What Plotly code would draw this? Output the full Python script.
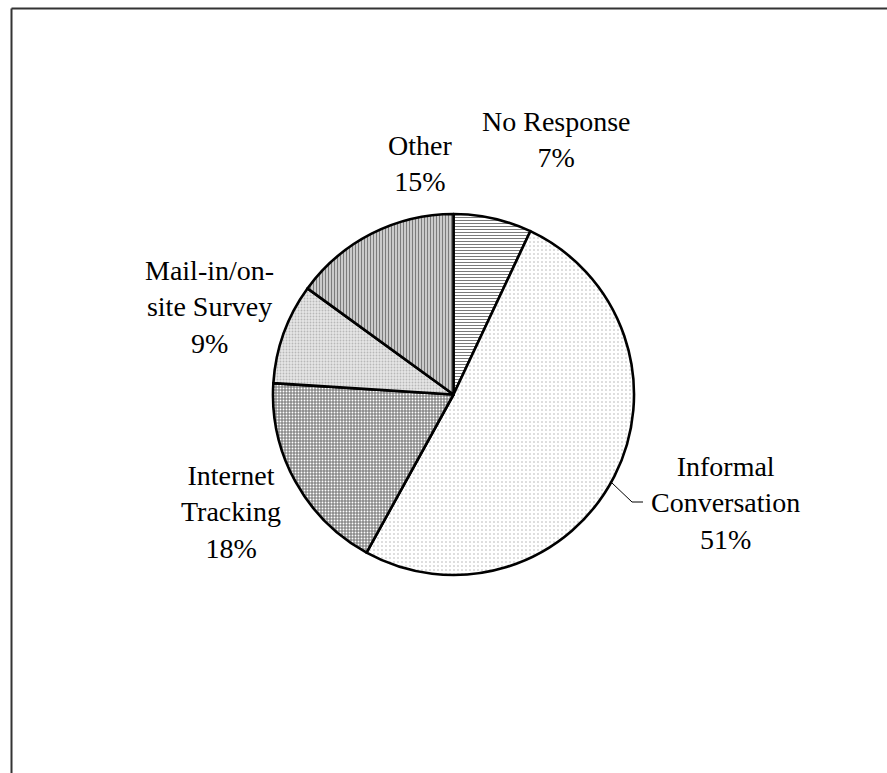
import plotly.graph_objects as go

categories = ["No Response", "Informal Conversation", "Internet Tracking",
              "Mail-in/on-site Survey", "Other"]
values = [7, 51, 18, 9, 15]
label_lines = ["No Response", "Informal<br>Conversation", "Internet<br>Tracking",
               "Mail-in/on-<br>site Survey", "Other"]

W, H = 887, 773
cx, cy, r = 453.5, 394.5, 180.5

patterns = [
    dict(shape="-", fgcolor="#7a7a7a", bgcolor="white", size=3, solidity=0.34),
    dict(shape=".", fgcolor="#b0b0b0", bgcolor="white", size=4, solidity=0.12),
    dict(shape=".", fgcolor="white", bgcolor="#8a8a8a", size=3, solidity=0.3),
    dict(shape=".", fgcolor="#b8b8b8", bgcolor="#e6e6e6", size=3, solidity=0.3),
    dict(shape="|", fgcolor="#7c7c7c", bgcolor="white", size=3, solidity=0.6),
]

fig = go.Figure(go.Pie(
    labels=categories,
    values=values,
    sort=False,
    direction="clockwise",
    rotation=0,
    textinfo="none",
    hoverinfo="label+percent",
    showlegend=False,
    marker=dict(
        colors=["white", "white", "#8a8a8a", "#e6e6e6", "white"],
        line=dict(color="black", width=2.6),
        pattern=dict(
            shape=[p["shape"] for p in patterns],
            fgcolor=[p["fgcolor"] for p in patterns],
            bgcolor=[p["bgcolor"] for p in patterns],
            size=[p["size"] for p in patterns],
            solidity=[p["solidity"] for p in patterns],
        ),
    ),
    domain=dict(x=[(cx - r) / W, (cx + r) / W],
                y=[(H - cy - r) / H, (H - cy + r) / H]),
))

# label placement (pixel centres of each text block)
label_pos = [(556, 140), (725, 503), (231, 512), (209, 307), (420, 163)]

annotations = []
for txt, v, (px, py) in zip(label_lines, values, label_pos):
    annotations.append(dict(
        text=f"{txt}<br>{v}%",
        x=px / W, y=1 - py / H, xref="paper", yref="paper",
        xanchor="center", yanchor="middle", showarrow=False,
        align="center",
        font=dict(family="Liberation Serif, Times New Roman, serif", size=28, color="black"),
    ))

def P(x, y):
    return f"{x / W},{1 - y / H}"

shapes = [
    # leader line for Informal Conversation
    dict(type="path", xref="paper", yref="paper",
         path=f"M {P(612, 483)} L {P(632, 502)} L {P(643, 502)}",
         line=dict(color="black", width=1)),
    # chart area border (top and left visible)
    dict(type="line", xref="paper", yref="paper",
         x0=11.5 / W, x1=1.01, y0=1 - 8.5 / H, y1=1 - 8.5 / H,
         line=dict(color="#333333", width=2)),
    dict(type="line", xref="paper", yref="paper",
         x0=11.5 / W, x1=11.5 / W, y0=1 - 8.5 / H, y1=-0.01,
         line=dict(color="#333333", width=2)),
]

fig.update_layout(
    width=W, height=H,
    margin=dict(l=0, r=0, t=0, b=0),
    paper_bgcolor="white", plot_bgcolor="white",
    annotations=annotations,
    shapes=shapes,
)

fig.write_html("out.html")
